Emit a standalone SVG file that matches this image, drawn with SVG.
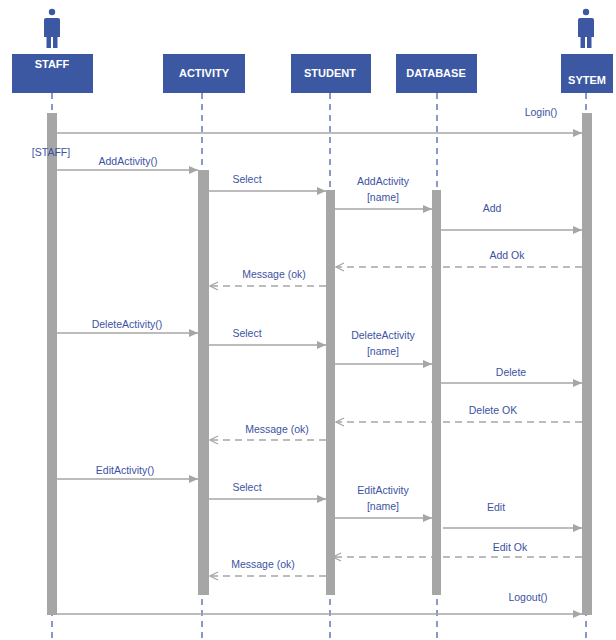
<svg xmlns="http://www.w3.org/2000/svg" width="616" height="640" viewBox="0 0 616 640">
<style>
.box{fill:#3c58a2;}
.hd{font-family:"Liberation Sans",Arial,sans-serif;font-size:11px;font-weight:bold;fill:#ffffff;text-anchor:middle;}
.life{stroke:#3c58a2;stroke-width:1.2;stroke-dasharray:6,5;fill:none;}
.bar{fill:#a6a6a6;}
.msg{stroke:#a6a6a6;stroke-width:1.3;fill:none;}
.ret{stroke:#a6a6a6;stroke-width:1.3;fill:none;stroke-dasharray:7,5;}
.lb{font-family:"Liberation Sans",Arial,sans-serif;font-size:10.5px;fill:#3d52a2;text-anchor:middle;}
.actor{fill:#3c58a2;}
</style>
<defs>
<marker id="ah" markerWidth="10" markerHeight="8" refX="9" refY="4" orient="auto" markerUnits="userSpaceOnUse">
<path d="M0,0 L9,4 L0,8 Z" fill="#a6a6a6"/>
</marker>
<marker id="oh" markerWidth="10" markerHeight="10" refX="9" refY="5" orient="auto" markerUnits="userSpaceOnUse">
<path d="M1,1 L9,5 L1,9" fill="none" stroke="#a6a6a6" stroke-width="1.2"/>
</marker>
<g id="actorIcon">
<circle cx="0" cy="0" r="3.2"/>
<path d="M-8,8 Q-8,6 -6,6 L6,6 Q8,6 8,8 L8,25 L5.5,25 L5.5,36 L1,36 L1,25 L-1,25 L-1,36 L-5.5,36 L-5.5,25 L-8,25 Z"/>
</g>
</defs>

<g id="lifelines">
<line class="life" x1="52" y1="93" x2="52" y2="640"/>
<line class="life" x1="202" y1="93" x2="202" y2="640"/>
<line class="life" x1="330" y1="93" x2="330" y2="640"/>
<line class="life" x1="437" y1="93" x2="437" y2="640"/>
<line class="life" x1="586" y1="93" x2="586" y2="640"/>
</g>

<g id="staff">
<use href="#actorIcon" class="actor" x="52" y="12"/>
<rect class="box" x="12" y="54" width="81" height="39"/>
<text class="hd" x="52" y="68">STAFF</text>
<rect class="bar" x="47" y="113" width="10" height="502"/>
</g>
<g id="activity">
<rect class="box" x="163" y="54" width="82" height="39"/>
<text class="hd" x="204" y="77">ACTIVITY</text>
<rect class="bar" x="198" y="170" width="11" height="425"/>
</g>
<g id="student">
<rect class="box" x="291" y="54" width="80" height="39"/>
<text class="hd" x="330" y="77">STUDENT</text>
<rect class="bar" x="326" y="190" width="9" height="405"/>
</g>
<g id="database">
<rect class="box" x="396" y="54" width="81" height="39"/>
<text class="hd" x="436" y="77">DATABASE</text>
<rect class="bar" x="432" y="190" width="9" height="405"/>
</g>
<g id="sytem">
<use href="#actorIcon" class="actor" x="586" y="12"/>
<rect class="box" x="561" y="54" width="52" height="39"/>
<text class="hd" x="587" y="84">SYTEM</text>
<rect class="bar" x="582" y="113" width="10" height="502"/>
</g>

<g id="connectors">
<line class="msg" x1="57" y1="133" x2="582" y2="133" marker-end="url(#ah)"/>
<line class="msg" x1="57" y1="170" x2="198" y2="170" marker-end="url(#ah)"/>
<line class="msg" x1="209" y1="191" x2="326" y2="191" marker-end="url(#ah)"/>
<line class="msg" x1="335" y1="209" x2="432" y2="209" marker-end="url(#ah)"/>
<line class="msg" x1="441" y1="230" x2="582" y2="230" marker-end="url(#ah)"/>
<line class="ret" x1="582" y1="267" x2="336" y2="267" marker-end="url(#oh)"/>
<line class="ret" x1="326" y1="286" x2="210" y2="286" marker-end="url(#oh)"/>

<line class="msg" x1="57" y1="333" x2="198" y2="333" marker-end="url(#ah)"/>
<line class="msg" x1="209" y1="345" x2="326" y2="345" marker-end="url(#ah)"/>
<line class="msg" x1="335" y1="364" x2="432" y2="364" marker-end="url(#ah)"/>
<line class="msg" x1="441" y1="383" x2="582" y2="383" marker-end="url(#ah)"/>
<line class="ret" x1="582" y1="422" x2="336" y2="422" marker-end="url(#oh)"/>
<line class="ret" x1="326" y1="440" x2="210" y2="440" marker-end="url(#oh)"/>

<line class="msg" x1="57" y1="479" x2="198" y2="479" marker-end="url(#ah)"/>
<line class="msg" x1="209" y1="499" x2="326" y2="499" marker-end="url(#ah)"/>
<line class="msg" x1="335" y1="518" x2="432" y2="518" marker-end="url(#ah)"/>
<line class="msg" x1="443" y1="528" x2="582" y2="528" marker-end="url(#ah)"/>
<line class="ret" x1="582" y1="557" x2="333" y2="557" marker-end="url(#oh)"/>
<line class="ret" x1="326" y1="576" x2="210" y2="576" marker-end="url(#oh)"/>

<line class="msg" x1="47" y1="614" x2="582" y2="614" marker-end="url(#ah)"/>
</g>

<g id="labels">
<text class="lb" x="541" y="116">Login()</text>
<text class="lb" x="51" y="156">[STAFF]</text>
<text class="lb" x="128" y="165">AddActivity()</text>
<text class="lb" x="247" y="183">Select</text>
<text class="lb" x="383" y="185">AddActivity</text>
<text class="lb" x="383" y="201">[name]</text>
<text class="lb" x="492" y="212">Add</text>
<text class="lb" x="507" y="259">Add Ok</text>
<text class="lb" x="274" y="278">Message (ok)</text>

<text class="lb" x="127" y="328">DeleteActivity()</text>
<text class="lb" x="247" y="337">Select</text>
<text class="lb" x="383" y="339">DeleteActivity</text>
<text class="lb" x="383" y="355">[name]</text>
<text class="lb" x="511" y="376">Delete</text>
<text class="lb" x="493" y="414">Delete OK</text>
<text class="lb" x="277" y="433">Message (ok)</text>

<text class="lb" x="125" y="474">EditActivity()</text>
<text class="lb" x="247" y="491">Select</text>
<text class="lb" x="383" y="494">EditActivity</text>
<text class="lb" x="383" y="510">[name]</text>
<text class="lb" x="496" y="511">Edit</text>
<text class="lb" x="510" y="551">Edit Ok</text>
<text class="lb" x="263" y="568">Message (ok)</text>
<text class="lb" x="528" y="601">Logout()</text>
</g>
</svg>
